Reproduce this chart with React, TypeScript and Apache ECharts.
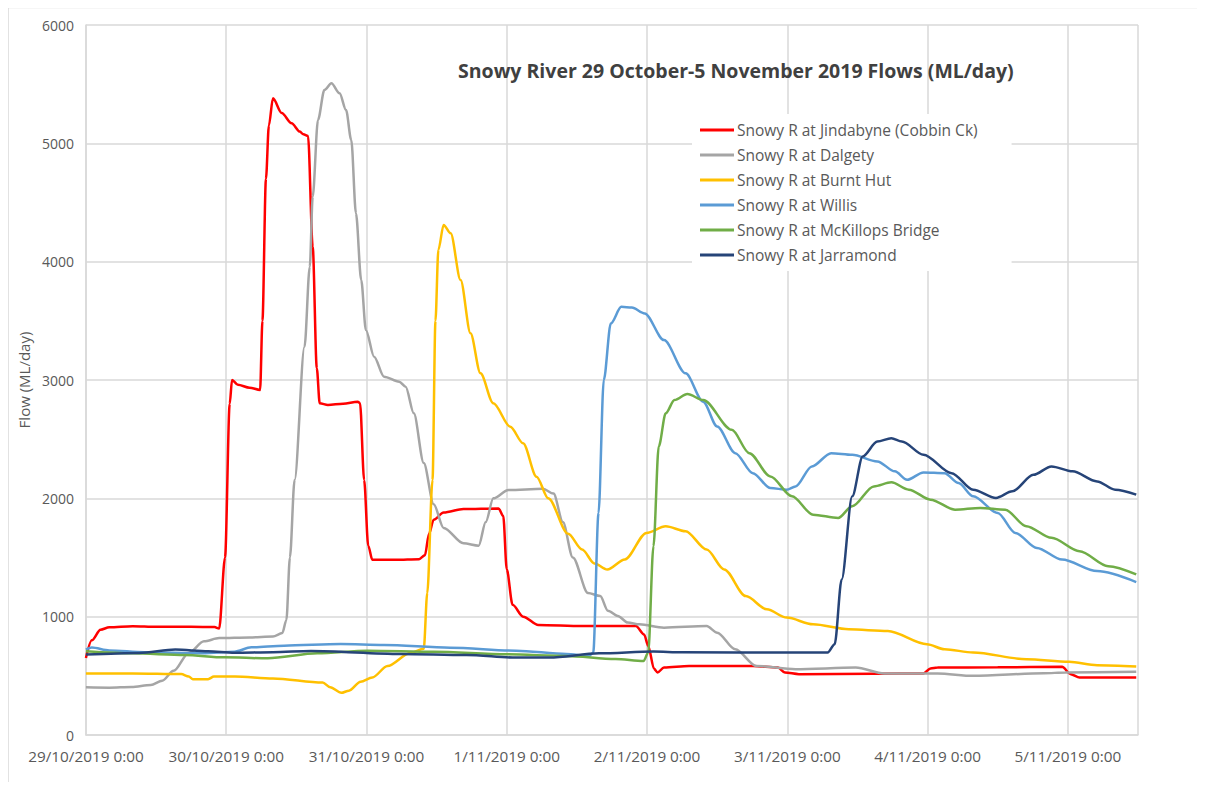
import React, { useEffect, useRef } from "react";
import * as echarts from "echarts";

// hours since 29/10/2019 0:00, flow ML/day
const dayLabels = ["29/10/2019 0:00", "30/10/2019 0:00", "31/10/2019 0:00", "1/11/2019 0:00", "2/11/2019 0:00", "3/11/2019 0:00", "4/11/2019 0:00", "5/11/2019 0:00"];

const jindabyne: [number, number][] = [
  [0, 650], [1, 800], [2.5, 890], [4, 910], [8, 920], [12, 915], [18, 915], [22, 912], [22.8, 900], [23.8, 1500], [24.6, 2800], [25, 3000],
  [26, 2960], [28, 2935], [29.8, 2916], [30.2, 3500], [30.8, 4700], [31.3, 5150], [32, 5380], [33.5, 5256], [35.2, 5169], [36.6, 5099],
  [37.2, 5076], [38, 5062], [38.8, 4127], [39.5, 3100], [40, 2803], [41.4, 2789], [44, 2800], [46.5, 2817], [46.9, 2803], [47.6, 2155],
  [48.3, 1600], [49, 1480], [53, 1480], [57, 1485], [58, 1520], [58.7, 1700], [59.5, 1820], [61.2, 1880], [64.6, 1910], [70.6, 1915],
  [71.4, 1850], [72, 1400], [73, 1100], [74.8, 1000], [77.4, 930], [84.9, 921], [94.1, 921], [95.5, 850], [96.2, 753], [97.2, 560],
  [97.8, 528], [98.9, 570], [103.2, 584], [114.1, 584], [118.4, 570], [119.6, 528], [122, 514], [134.8, 518], [143.3, 520], [144.5, 562],
  [145.7, 570], [156, 572], [167, 576], [168.5, 514], [170, 486], [179.7, 486]
];

const dalgety: [number, number][] = [
  [0, 403], [4, 400], [7.8, 405], [11.1, 422], [13.05, 458], [15, 542], [17.6, 694], [20.2, 792], [22.8, 819], [28, 825], [32, 833],
  [33.6, 861], [34.3, 972], [34.9, 1500], [35.7, 2155], [37.4, 3281], [38.3, 3958], [38.8, 4549], [39.7, 5197], [40.8, 5451], [42, 5507],
  [43.4, 5423], [44.5, 5282], [45.4, 5028], [46.2, 4409], [47.1, 3845], [47.9, 3423], [49.3, 3197], [51, 3028], [53.6, 2986], [54.7, 2944],
  [56.1, 2718], [57.8, 2298], [59.5, 1950], [61.2, 1750], [64.6, 1620], [67.2, 1600], [68.4, 1800], [69.7, 2000], [72.3, 2070], [78.2, 2080],
  [80, 2040], [81.6, 1800], [83.3, 1500], [85.9, 1200], [88, 1174], [89.3, 1050], [91, 1006], [92.7, 950], [94.7, 935], [98.9, 907],
  [106.2, 921], [108, 865], [111.1, 725], [114.7, 584], [121.4, 556], [131.7, 570], [136.6, 520], [145.7, 520], [151.8, 500], [163.9, 522],
  [167.6, 528], [179.7, 534]
];

const burntHut: [number, number][] = [
  [0, 519], [8, 520], [16.3, 515], [17.6, 494], [18.3, 472], [20.9, 472], [21.9, 494], [25.5, 494], [32, 478], [40.5, 444], [41.8, 403],
  [43.7, 356], [45, 375], [47, 450], [49, 486], [51.6, 583], [55.5, 694], [57.8, 728], [58.4, 1200], [59.3, 2155], [59.8, 3500], [60.3, 4100],
  [61.2, 4310], [62.4, 4240], [64.1, 3845], [65.8, 3395], [67.5, 3057], [69.7, 2803], [72.6, 2605], [74.8, 2465], [77.1, 2183], [79.1, 2000],
  [82.5, 1700], [84.9, 1567], [87, 1450], [89.2, 1399], [92.2, 1483], [95.9, 1708], [99.2, 1764], [102.6, 1722], [106.2, 1567], [109.2, 1399],
  [112.9, 1174], [116.5, 1062], [119.9, 992], [124.4, 935], [130.5, 893], [137.2, 879], [143.9, 767], [146.9, 725], [151.8, 697], [160.9, 640],
  [168.2, 618], [173, 590], [179.7, 579]
];

const willis: [number, number][] = [
  [0, 722], [1, 740], [4, 715], [10, 700], [20, 690], [25.4, 704], [28.3, 741], [33.9, 755], [43.6, 769], [51, 761], [62.3, 738], [73.6, 713],
  [82.2, 685], [86.1, 668], [86.8, 696], [87.7, 1876], [88.6, 3000], [89.8, 3478], [91.6, 3618], [93.4, 3612], [95.6, 3562], [98.9, 3337],
  [102.6, 3056], [105.6, 2817], [108, 2607], [111.1, 2382], [114.1, 2213], [117.1, 2087], [119.9, 2073], [121.4, 2101], [124.2, 2270],
  [127.5, 2382], [131.1, 2368], [135.4, 2312], [138.4, 2228], [140.5, 2157], [143.3, 2219], [146.9, 2213], [149.3, 2129], [151.8, 2017],
  [156, 1876], [159, 1708], [162.7, 1581], [167, 1483], [173, 1385], [179.7, 1292]
];

const mcKillops: [number, number][] = [
  [0, 708], [8, 690], [16.9, 676], [23.7, 656], [31.1, 648], [39.6, 690], [48.2, 713], [59.5, 704], [72, 682], [82.2, 668], [90.6, 642],
  [95.4, 625], [96.2, 696], [97.1, 1596], [98, 2438], [99.2, 2719], [100.7, 2831], [102.9, 2882], [105.6, 2831], [110.5, 2579], [113.5, 2382],
  [117.1, 2185], [120.8, 2017], [124.4, 1862], [128.7, 1834], [131.1, 1933], [134.8, 2101], [137.8, 2135], [140.8, 2073], [144.5, 1989],
  [148.7, 1904], [153, 1919], [157.3, 1904], [160.9, 1764], [165.2, 1666], [170, 1553], [174.9, 1427], [179.7, 1357]
];

const jarramond: [number, number][] = [
  [0, 680], [9.1, 694], [15.3, 722], [20.9, 708], [25.4, 696], [32, 700], [38.5, 710], [53.8, 685], [65.1, 676], [73.6, 654], [79.3, 654],
  [87.8, 690], [97.1, 705], [102, 699], [121.4, 697], [126.9, 697], [128.1, 767], [129.3, 1315], [131.1, 2017], [132.9, 2354], [135.4, 2480],
  [137.8, 2508], [139.6, 2480], [143.3, 2368], [148.1, 2213], [151.8, 2073], [155.7, 2003], [158.5, 2059], [162.1, 2199], [165.2, 2270],
  [168.8, 2228], [173, 2143], [176.1, 2073], [179.7, 2031]
];

const seriesNames = [
  "Snowy R at Jindabyne (Cobbin Ck)",
  "Snowy R at Dalgety",
  "Snowy R at Burnt Hut",
  "Snowy R at Willis",
  "Snowy R at McKillops Bridge",
  "Snowy R at Jarramond",
];
const seriesColors = ["#ff0000", "#a5a5a5", "#ffc000", "#5b9bd5", "#70ad47", "#264478"];
const seriesData = [jindabyne, dalgety, burntHut, willis, mcKillops, jarramond];

const FONT = "'Open Sans', 'Noto Sans', sans-serif";

export default function App() {
  const ref = useRef<HTMLDivElement>(null);
  useEffect(() => {
    if (!ref.current) return;
    const chart = echarts.init(ref.current, undefined, { renderer: "svg" });
    chart.setOption({
      animation: false,
      backgroundColor: "#ffffff",
      title: {
        text: "Snowy River 29 October-5 November 2019 Flows (ML/day)",
        left: 445,
        top: 47,
        textStyle: { fontFamily: FONT, fontSize: 19.5, fontWeight: "bold", color: "#404040" },
      },
      legend: {
        orient: "vertical",
        left: 684,
        top: 106,
        itemWidth: 34,
        itemHeight: 3,
        itemGap: 9,
        padding: [8, 34, 8, 8],
        backgroundColor: "#ffffff",
        icon: "rect",
        textStyle: { fontFamily: FONT, fontSize: 15.5, color: "#595959", padding: [0, 0, 0, -2] },
        data: seriesNames,
      },
      grid: { left: 72, top: 17, right: 59, bottom: 47 },
      xAxis: {
        type: "value",
        min: 0,
        max: 180,
        interval: 24,
        axisLine: { show: true, lineStyle: { color: "#d9d9d9", width: 1.5 } },
        axisTick: { show: false },
        splitLine: { show: true, lineStyle: { color: "#d9d9d9", width: 1.5 } },
        axisLabel: {
          fontFamily: FONT,
          fontSize: 15.3,
          color: "#595959",
          margin: 13,
          showMaxLabel: false,
          formatter: (v: number) => dayLabels[Math.round(v / 24)] ?? "",
        },
      },
      yAxis: {
        type: "value",
        min: 0,
        max: 6000,
        interval: 1000,
        name: "Flow (ML/day)",
        nameLocation: "middle",
        nameGap: 50,
        nameTextStyle: { fontFamily: FONT, fontSize: 15, color: "#595959" },
        axisLine: { show: true, lineStyle: { color: "#d9d9d9", width: 1.5 } },
        axisTick: { show: false },
        splitLine: { show: true, lineStyle: { color: "#d9d9d9", width: 1.5 } },
        axisLabel: {
          fontFamily: FONT,
          fontSize: 14,
          color: "#595959",
          margin: 12,
          formatter: (v: number) => String(v),
        },
      },
      graphic: [
        { type: "line", shape: { x1: 0, y1: -0.5, x2: 1189, y2: -0.5 }, style: { stroke: "#d9d9d9", lineWidth: 1.5 } },
        { type: "line", shape: { x1: 0, y1: 0, x2: 0, y2: 774 }, style: { stroke: "#d9d9d9", lineWidth: 1.5 } },
      ],
      series: seriesNames.map((name, i) => ({
        name,
        type: "line",
        data: seriesData[i],
        showSymbol: false,
        smooth: 0.3,
        smoothMonotone: "x",
        lineStyle: { color: seriesColors[i], width: 2.5 },
        itemStyle: { color: seriesColors[i] },
      })),
    });
    return () => chart.dispose();
  }, []);
  return <div ref={ref} style={{ width: 1189, height: 774 }} />;
}
